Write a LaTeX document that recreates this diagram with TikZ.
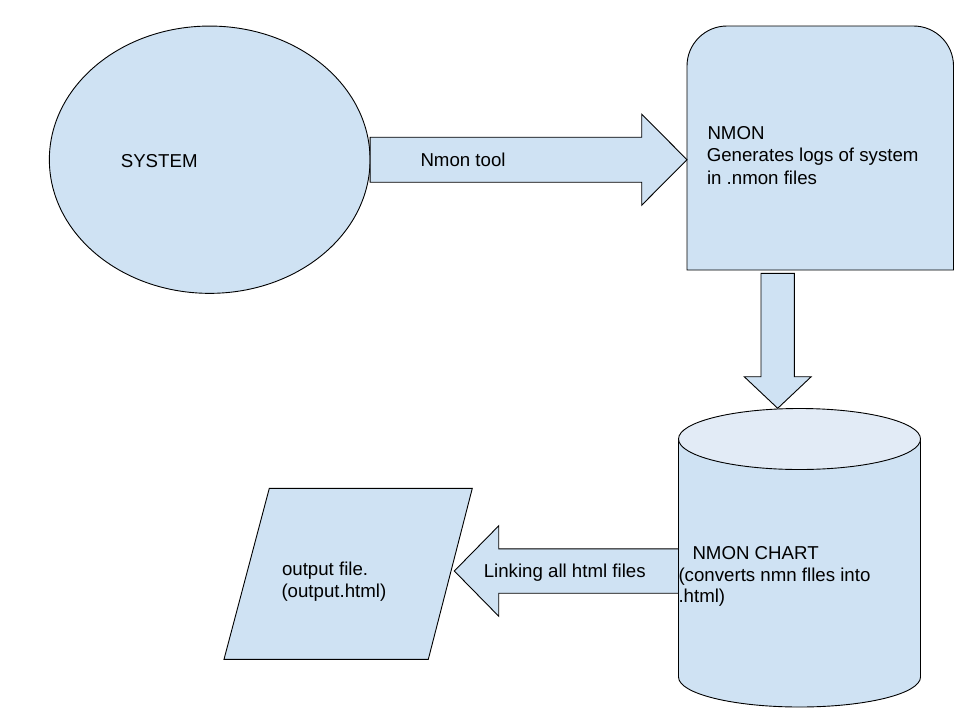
\documentclass[tikz,border=0pt]{standalone}
\usepackage{fontspec}
\setmainfont{Liberation Sans}
\usetikzlibrary{shapes.geometric,calc}
\definecolor{boxfill}{HTML}{CFE2F3}
\definecolor{capfill}{HTML}{E2EBF6}
\begin{document}
\begin{tikzpicture}[x=1pt,y=-1pt,
  shapestyle/.style={draw=black,line width=0.9pt,fill=boxfill,line join=miter},
  holder/.style={draw=none,inner sep=0pt,outer sep=0pt},
  lbl/.style={anchor=base west,inner sep=0pt,outer sep=0pt,font=\fontsize{18.67}{22.5}\selectfont}]
\useasboundingbox[fill=white] (0,0) rectangle (960,720);

% SYSTEM ellipse
\node[shapestyle,ellipse,minimum width=320.7pt,minimum height=267.3pt,inner sep=0pt,outer sep=0pt] (sys) at (209.7,159.7) {};

% NMON box (rounded top corners)
\node[holder,minimum width=266.5pt,minimum height=244pt] (nmon) at (820.25,148) {};
\draw[shapestyle] (nmon.south west) [rounded corners=40pt] -- (nmon.north west) -- (nmon.north east) [sharp corners] -- (nmon.south east) -- cycle;

% NMON CHART cylinder
\node[holder,minimum width=242pt,minimum height=298.4pt] (chart) at (799.5,557.5) {};
\fill[boxfill] (678.5,439) -- (678.5,677) arc[start angle=180,end angle=360,x radius=121pt,y radius=30pt] -- (920.5,439) -- cycle;
\draw[line width=0.9pt] (678.5,439) -- (678.5,677) arc[start angle=180,end angle=360,x radius=121pt,y radius=30pt] -- (920.5,439);
\draw[line width=0.9pt,fill=capfill] (799.5,439) ellipse[x radius=121pt,y radius=30.5pt];

% output parallelogram
\node[holder,minimum width=248.3pt,minimum height=171pt] (out) at (348.15,573.8) {};
\draw[shapestyle] (269.3,488.3) -- (472.3,488.3) -- (428.3,659.3) -- (224,659.3) -- cycle;

% block arrow: SYSTEM -> NMON
\coordinate (a1s) at (sys.east);
\coordinate (a1t) at (nmon.west |- sys.east);
\draw[shapestyle] ($(a1s)+(0,-22.5)$) -- ($(a1t)+(-45.3,-22.5)$) -- ($(a1t)+(-45.3,-45.5)$) -- (a1t)
  -- ($(a1t)+(-45.3,45.5)$) -- ($(a1t)+(-45.3,22.5)$) -- ($(a1s)+(0,22.5)$) -- cycle;

% block arrow: NMON -> NMON CHART
\coordinate (a2s) at ($(nmon.south)+(-42.55,3.3)$);
\coordinate (a2t) at (a2s |- chart.north);
\draw[shapestyle] ($(a2s)+(-16.7,0)$) -- ($(a2t)+(-16.7,-31.6)$) -- ($(a2t)+(-33.5,-31.6)$) -- (a2t)
  -- ($(a2t)+(33.5,-31.6)$) -- ($(a2t)+(16.7,-31.6)$) -- ($(a2s)+(16.7,0)$) -- cycle;

% block arrow: NMON CHART -> output
\coordinate (a3s) at (678.5,571);
\coordinate (a3t) at (454.3,571);
\draw[shapestyle] ($(a3s)+(0,-22.2)$) -- ($(a3t)+(44.4,-22.2)$) -- ($(a3t)+(44.4,-45.2)$) -- (a3t)
  -- ($(a3t)+(44.4,45.2)$) -- ($(a3t)+(44.4,22.2)$) -- ($(a3s)+(0,22.2)$) -- cycle;

% texts
\node[lbl] (tsys) at (120.8,167) {SYSTEM};
\node[lbl] (ttool) at (420.5,166) {Nmon tool};
\node[lbl] (tn1) at (707.5,139) {NMON};
\node[lbl] (tn2) at (706.8,161.5) {Generates logs of system};
\node[lbl] (tn3) at (707,184) {in .nmon files};
\node[lbl] (tc1) at (692.5,559.5) {NMON CHART};
\node[lbl] (tc2) at (678.5,581) {(converts nmn flles into};
\node[lbl] (tc3) at (678.5,602.5) {.html)};
\node[lbl] (tlink) at (483.8,577) {Linking all html files};
\node[lbl] (to1) at (282,575.5) {output file.};
\node[lbl] (to2) at (281.5,597) {(output.html)};
\end{tikzpicture}
\end{document}
